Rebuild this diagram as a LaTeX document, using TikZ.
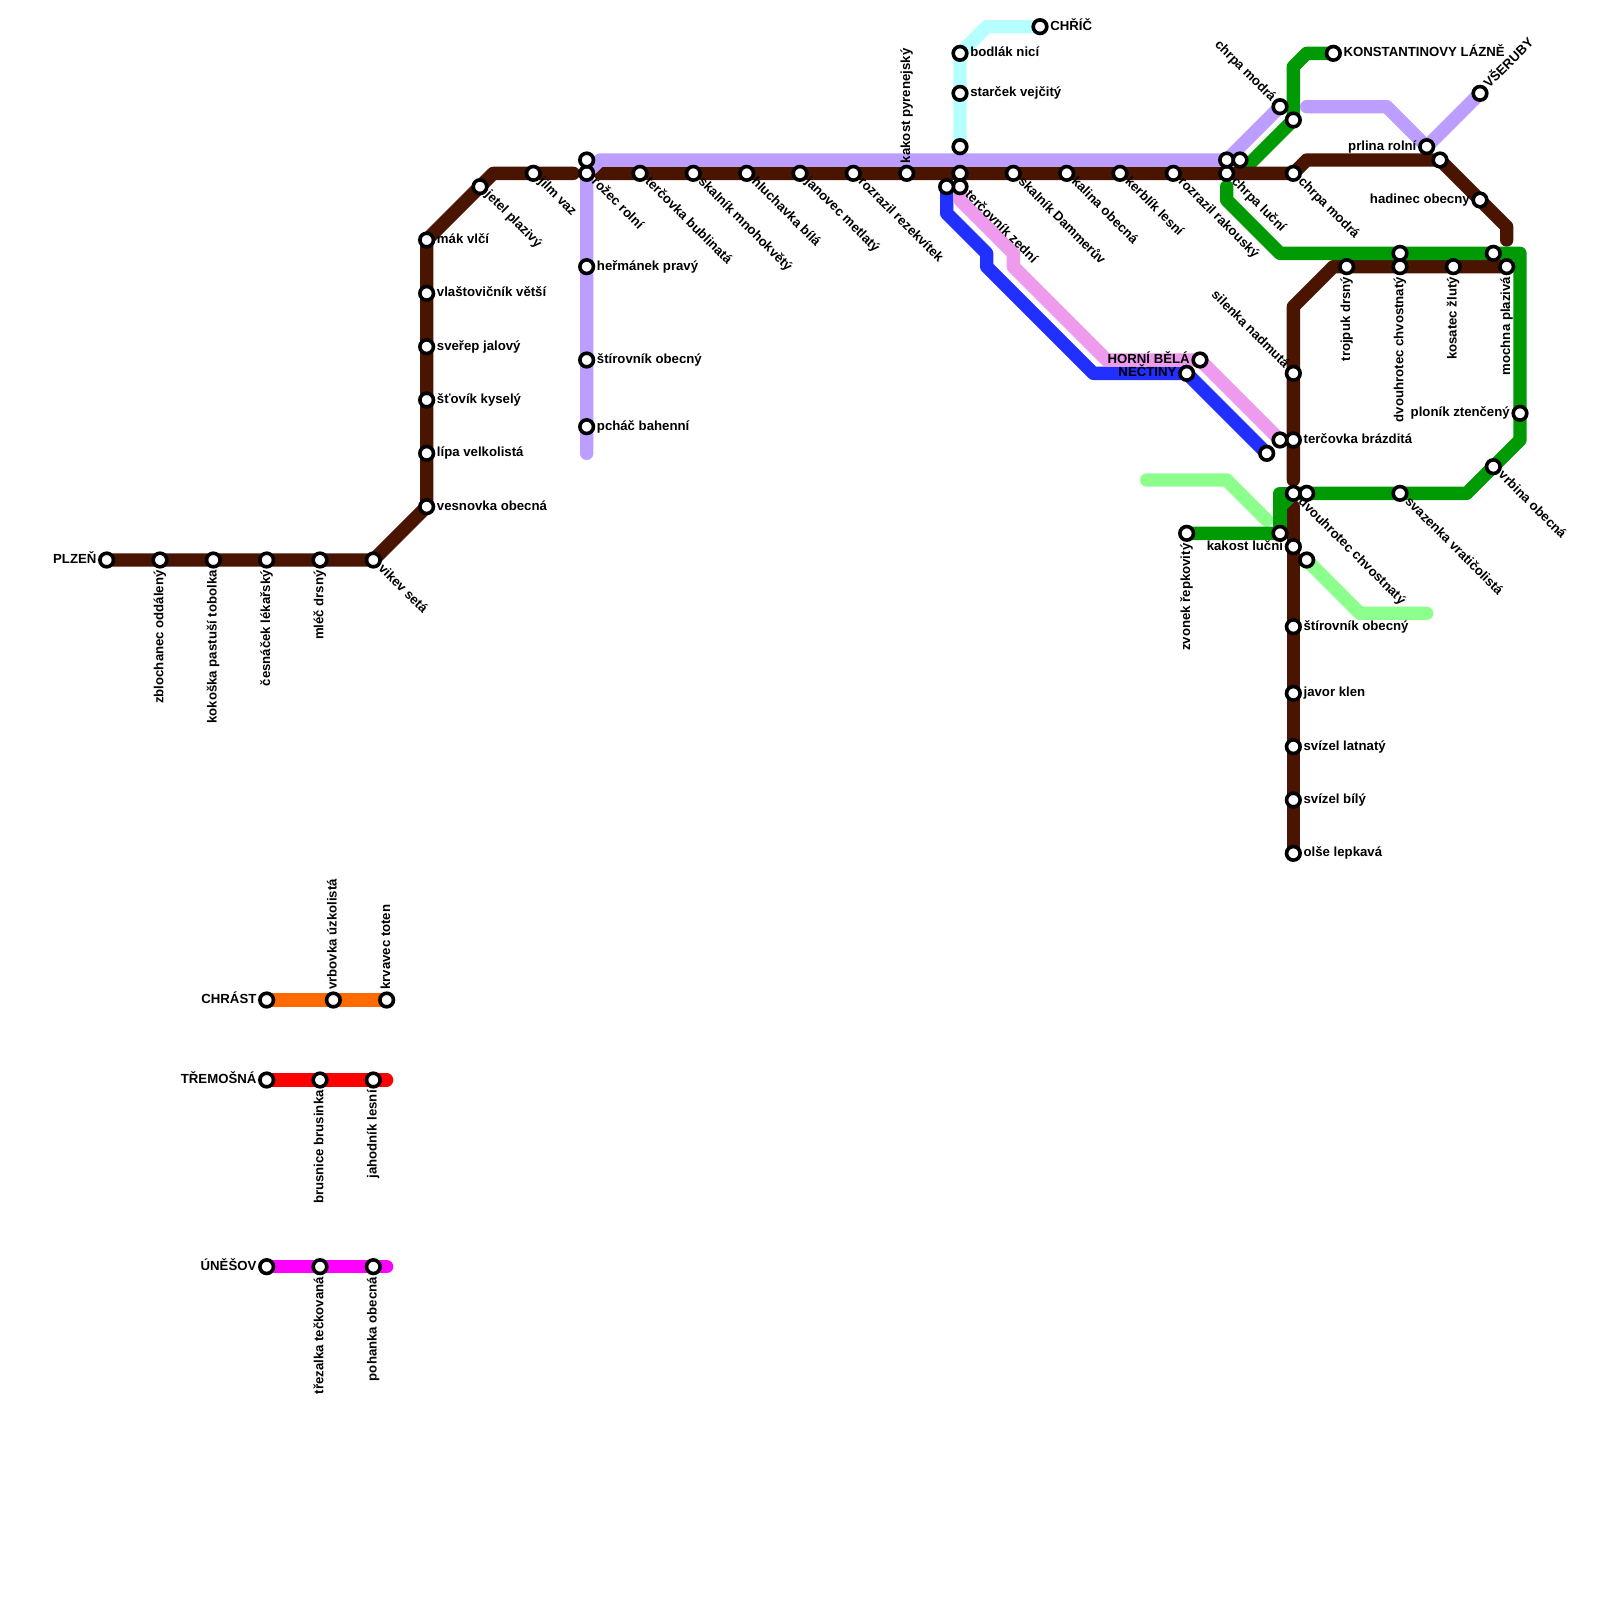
\documentclass[tikz,border=0pt]{standalone}
\usepackage{fontspec}
\setmainfont{Liberation Sans}
\usetikzlibrary{backgrounds}
\definecolor{cbrown}{HTML}{491400}
\definecolor{cpurple}{HTML}{BB9EFF}
\definecolor{cgreen}{HTML}{009A05}
\definecolor{clight}{HTML}{8DFF8D}
\definecolor{cpink}{HTML}{EE9BEE}
\definecolor{cblue}{HTML}{2230FF}
\definecolor{ccyan}{HTML}{B5FFFF}
\definecolor{corange}{HTML}{FF6A00}
\definecolor{cred}{HTML}{FF0000}
\definecolor{cmag}{HTML}{FF00FF}
\tikzset{
  stn/.style={circle,draw=black,fill=white,line width=2.7pt,minimum size=10.2pt,inner sep=0pt,outer sep=0pt},
  lbl/.style={font=\bfseries\fontsize{9.9}{12}\selectfont,inner sep=0pt,text height=7pt,text depth=2pt,text=black},
  route/.style={line width=10pt,line cap=round,line join=round}
}
\newcommand\st[2]{\node[stn] (#1) at (#2) {};}
\newcommand\labE[2]{\node[lbl,anchor=west] (#1-t) at ([xshift=7.5pt]#1.center) {#2};}
\newcommand\labW[2]{\node[lbl,anchor=east] (#1-t) at ([xshift=-7.5pt]#1.center) {#2};}
\newcommand\labS[2]{\node[lbl,rotate=90,anchor=east] (#1-t) at ([yshift=-7.5pt]#1.center) {#2};}
\newcommand\labN[2]{\node[lbl,rotate=90,anchor=west] (#1-t) at ([yshift=7.5pt]#1.center) {#2};}
\newcommand\labSE[2]{\node[lbl,rotate=-45,anchor=west] (#1-t) at ([shift={(5pt,-5pt)}]#1.center) {#2};}
\newcommand\labNW[2]{\node[lbl,rotate=-45,anchor=east] (#1-t) at ([shift={(-5pt,5pt)}]#1.center) {#2};}
\newcommand\labNE[2]{\node[lbl,rotate=45,anchor=west] (#1-t) at ([shift={(5pt,5pt)}]#1.center) {#2};}
\begin{document}
\begin{tikzpicture}[x=10pt,y=-10pt]
\useasboundingbox (0,0) rectangle (120,120);
% stations: brown line
\st{plzen}{8,42}\st{zbl}{12,42}\st{kok}{16,42}\st{ces}{20,42}\st{mlec}{24,42}\st{vik}{28,42}
\st{ves}{32,38}\st{lip}{32,34}\st{sto}{32,30}\st{sve}{32,26}\st{vla}{32,22}\st{mak}{32,18}
\st{jet}{36,14}\st{jil}{40,13}\st{roz}{44,13}\st{ter}{48,13}\st{ska}{52,13}\st{hlu}{56,13}
\st{jan}{60,13}\st{rre}{64,13}\st{kpy}{68,13}\st{mid}{72,13}\st{dam}{76,13}\st{kal}{80,13}
\st{ker}{84,13}\st{rra}{88,13}\st{clu}{92,13}\st{cmo}{97,13}\st{ko}{108,12}\st{had}{111,15}
\st{moc}{113,20}\st{kos}{109,20}\st{dvo}{105,20}\st{tro}{101,20}
\st{sil}{97,28}\st{tbr}{97,33}\st{dch}{97,37}\st{klu}{97,41}\st{sob}{97,47}\st{jav}{97,52}
\st{sla}{97,56}\st{sbi}{97,60}\st{ols}{97,64}
% purple
\st{pa}{44,12}\st{her}{44,20}\st{stb}{44,27}\st{pch}{44,32}\st{pb}{92,12}\st{cmb}{96,8}
\st{prl}{107,11}\st{vse}{111,7}
% green
\st{kon}{100,4}\st{gb}{97,9}\st{gc}{93,12}\st{gd}{105,19}\st{ge}{112,19}\st{plo}{114,31}
\st{vrb}{112,35}\st{sva}{105,37}\st{gf}{98,37}\st{gg}{96,40}\st{zvo}{89,40}
% light green
\st{lg}{98,42}
% pink, blue
\st{hb}{90,27}\st{nec}{89,28}\st{pe}{96,33}\st{be}{95,34}\st{tze}{72,14}\st{bs}{71,14}
% cyan
\st{chr}{78,2}\st{bod}{72,4}\st{sta}{72,7}\st{cye}{72,11}
% short lines
\st{chs}{20,75}\st{vru}{25,75}\st{krv}{29,75}
\st{tre}{20,81}\st{bru}{24,81}\st{jah}{28,81}
\st{une}{20,95}\st{tte}{24,95}\st{poh}{28,95}
% labels
\labW{plzen}{PLZEŇ}\labS{zbl}{zblochanec oddálený}\labS{kok}{kokoška pastuší tobolka}
\labS{ces}{česnáček lékařský}\labS{mlec}{mléč drsný}\labSE{vik}{vikev setá}
\labE{ves}{vesnovka obecná}\labE{lip}{lípa velkolistá}\labE{sto}{šťovík kyselý}
\labE{sve}{sveřep jalový}\labE{vla}{vlaštovičník větší}\labE{mak}{mák vlčí}
\labSE{jet}{jetel plazivý}\labSE{jil}{jilm vaz}\labSE{roz}{rožec rolní}
\labSE{ter}{terčovka bublinatá}\labSE{ska}{skalník mnohokvětý}\labSE{hlu}{hluchavka bílá}
\labSE{jan}{janovec metlatý}\labSE{rre}{rozrazil rezekvítek}\labN{kpy}{kakost pyrenejský}
\labSE{tze}{terčovník zední}\labSE{dam}{skalník Dammerův}\labSE{kal}{kalina obecná}
\labSE{ker}{kerblík lesní}\labSE{rra}{rozrazil rakouský}\labSE{clu}{chrpa luční}
\labSE{cmo}{chrpa modrá}\labW{had}{hadinec obecny}\labS{moc}{mochna plazivá}
\labS{kos}{kosatec žlutý}\labS{dvo}{dvouhrotec chvostnatý}\labS{tro}{trojpuk drsný}
\labNW{sil}{silenka nadmutá}\labE{tbr}{terčovka brázditá}\labSE{dch}{dvouhrotec chvostnatý}
\labW{klu}{kakost luční}\labE{sob}{štírovník obecný}\labE{jav}{javor klen}
\labE{sla}{svízel latnatý}\labE{sbi}{svízel bílý}\labE{ols}{olše lepkavá}
\labE{her}{heřmánek pravý}\labE{stb}{štírovník obecný}\labE{pch}{pcháč bahenní}
\labNW{cmb}{chrpa modrá}\labW{prl}{prlina rolní}\labNE{vse}{VŠERUBY}
\labE{kon}{KONSTANTINOVY LÁZNĚ}\labW{plo}{ploník ztenčený}\labSE{vrb}{vrbina obecná}
\labSE{sva}{svazenka vratičolistá}\labS{zvo}{zvonek řepkovitý}
\labW{hb}{HORNÍ BĚLÁ}\labW{nec}{NEČTINY}
\labE{chr}{CHŘÍČ}\labE{bod}{bodlák nicí}\labE{sta}{starček vejčitý}
\labW{chs}{CHRÁST}\labN{vru}{vrbovka úzkolistá}\labN{krv}{krvavec toten}
\labW{tre}{TŘEMOŠNÁ}\labS{bru}{brusnice brusinka}\labS{jah}{jahodník lesní}
\labW{une}{ÚNĚŠOV}\labS{tte}{třezalka tečkovaná}\labS{poh}{pohanka obecná}
% bends and free ends
\coordinate (b1) at (37,13);\coordinate (b2) at (43,13);\coordinate (b3) at (45,13);
\coordinate (b4) at (98,12);\coordinate (b5) at (113,17);\coordinate (b6) at (113,18);
\coordinate (b7) at (100,20);\coordinate (b8) at (97,23);\coordinate (b9) at (97,36);
\coordinate (b10) at (97,38);
\coordinate (p1) at (44,34);\coordinate (p2) at (45,12);\coordinate (p3) at (98,8);\coordinate (p4) at (104,8);
\coordinate (g1) at (98,4);\coordinate (g2) at (97,5);\coordinate (g3) at (93,13);
\coordinate (g4) at (92,14);\coordinate (g5) at (92,15);\coordinate (g6) at (96,19);\coordinate (g7) at (114,19);
\coordinate (g8) at (114,33);\coordinate (g9) at (110,37);\coordinate (g10) at (97,37);
\coordinate (g11) at (96,38);\coordinate (g12) at (96,37);
\coordinate (l1) at (86,36);\coordinate (l2) at (92,36);\coordinate (l3) at (95,39);
\coordinate (l4) at (102,46);\coordinate (l5) at (107,46);
\coordinate (k1) at (72,15);\coordinate (k2) at (76,19);\coordinate (k3) at (76,20);\coordinate (k4) at (83,27);
\coordinate (u1) at (71,16);\coordinate (u2) at (74,19);\coordinate (u3) at (74,20);\coordinate (u4) at (82,28);
\coordinate (c1) at (74,2);
\coordinate (r1) at (29,81);\coordinate (m1) at (29,95);
\begin{scope}[on background layer]
\fill[white] (0,0) rectangle (120,120);
\draw[route,corange] (chs.center) -- (krv.center);
\draw[route,cred] (tre.center) -- (r1);
\draw[route,cmag] (une.center) -- (m1);
\draw[route,ccyan] (cye.center) -- (bod.center) -- (c1) -- (chr.center);
\draw[route,cblue] (bs.center) -- (u1) -- (u2) -- (u3) -- (u4) -- (nec.center) -- (be.center);
\draw[route,cpink] (tze.center) -- (k1) -- (k2) -- (k3) -- (k4) -- (hb.center) -- (pe.center);
\draw[route,clight] (l1) -- (l2) -- (l3);
\draw[route,clight] (lg.center) -- (l4) -- (l5);
\draw[route,cgreen] (kon.center) -- (g1) -- (g2) -- (gb.center) -- (g3);
% brown
\draw[route,cbrown] (plzen.center) -- (vik.center) -- (ves.center) -- (mak.center) -- (b1) -- (b2);
\draw[route,cbrown] (b3) -- (cmo.center) -- (b4) -- (ko.center) -- (b5) -- (b6);
\draw[route,cbrown] (moc.center) -- (b7) -- (b8) -- (b9);
\draw[route,cbrown] (b10) -- (ols.center);
% purple
\draw[route,cpurple] (p1) -- (roz.center) -- (p2) -- (pb.center) -- (cmb.center);
\draw[route,cpurple] (p3) -- (p4) -- (prl.center) -- (vse.center);
% green on top
\draw[route,cgreen] (g4) -- (g5) -- (g6) -- (g7) -- (g8) -- (g9) -- (g10) -- (g11) -- (gg.center) -- (zvo.center);
\draw[route,cgreen] (gg.center) -- (g12) -- (g10);
\end{scope}
\end{tikzpicture}
\end{document}
